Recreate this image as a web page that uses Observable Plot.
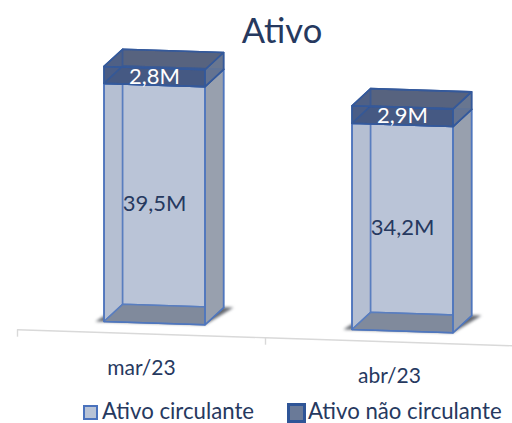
<!DOCTYPE html>
<html>
<head>
<meta charset="utf-8">
<script src="https://cdn.jsdelivr.net/npm/d3@7"></script>
<script src="https://cdn.jsdelivr.net/npm/@observablehq/plot@0.6"></script>
<style>
  html, body { margin: 0; padding: 0; background: #fff; }
  body { width: 512px; height: 423px; overflow: hidden; font-family: Lato, sans-serif; color: #26395f; position: relative; }
  #title { height: 40px; padding-left: 52px; text-align: center; font-size: 34.5px; line-height: 1; padding-top: 13px; box-sizing: border-box; }
  #chart { display: block; height: 348px; }
  #chart svg { display: block; overflow: visible; }
  #legend { position: relative; height: 35px; font-size: 22.2px; }
  #legend span { position: absolute; white-space: nowrap; line-height: 24px; }
  #legend i { position: absolute; display: block; box-sizing: border-box; }
</style>
</head>
<body>
<div id="title">Ativo</div>
<div id="chart"></div>
<div id="legend"></div>
<script>
// Balance sheet figures, in millions
const months = ["mar/23", "abr/23"];
const ativoCirculante = [39.5, 34.2];
const ativoNaoCirculante = [2.8, 2.9];
const seriesNames = ["Ativo circulante", "Ativo não circulante"];

// Oblique projection of the column chart, expressed in scale units
const barOffset = 0.349;   // column start inside its category
const barWidth = 0.407;    // column width, in categories
const depthX = 0.075;      // receding edge, in categories
const depthY = 2.95;       // receding edge, in millions
const tilt = 1.33;         // floor drop per category, in millions

const lowerStyle = {
  stroke: "#4f76bd",
  floor: "rgb(122,132,150)", back: "rgb(186,196,215)", left: "rgb(181,191,210)",
  right: "rgb(152,160,174)", front: "rgba(186,197,218,0.1)", top: null
};
const upperStyle = {
  stroke: "#34599b",
  floor: "rgb(72,90,132)", back: "rgb(88,100,128)", left: "rgb(78,96,136)",
  right: "rgba(110,124,150,0.75)", front: "rgba(62,84,132,0.2)", top: "rgba(85,97,125,0.25)"
};

const fmt = v => v.toFixed(1).replace(".", ",") + "M";
const faces = [];

// One prism between two stacked values; back faces first so the front ones overlay them
function prism(id, i, v0, v1, style) {
  const x0 = i + barOffset, x1 = x0 + barWidth;
  const p = (x, v, deep) => {
    const px = x + (deep ? depthX : 0);
    return [px, v + (deep ? depthY : 0) - tilt * px];
  };
  const quads = {
    back: [p(x0, v0, 1), p(x1, v0, 1), p(x1, v1, 1), p(x0, v1, 1)],
    floor: [p(x0, v0), p(x1, v0), p(x1, v0, 1), p(x0, v0, 1)],
    left: [p(x0, v0), p(x0, v0, 1), p(x0, v1, 1), p(x0, v1)],
    right: [p(x1, v0), p(x1, v0, 1), p(x1, v1, 1), p(x1, v1)],
    front: [p(x0, v0), p(x1, v0), p(x1, v1), p(x0, v1)],
    top: [p(x0, v1), p(x1, v1), p(x1, v1, 1), p(x0, v1, 1)]
  };
  for (const name of ["left", "back", "floor", "right", "front", "top"]) {
    const pts = quads[name];
    [...pts, pts[0]].forEach(([x, y]) => faces.push({
      id: `${id}-${i}-${name}`, x, y,
      fill: style[name] || "none", stroke: style.stroke
    }));
  }
}

months.forEach((_, i) => {
  prism("circulante", i, 0, ativoCirculante[i], lowerStyle);
  prism("naoCirculante", i, ativoCirculante[i], ativoCirculante[i] + ativoNaoCirculante[i], upperStyle);
});

// Soft cast shadow under each column
const shadows = months.flatMap((_, i) => {
  const x0 = i + barOffset, x1 = x0 + barWidth;
  const pts = [
    [x0 - 0.035, 0 - tilt * x0],
    [x1, 0 - tilt * x1],
    [x1 + depthX + 0.04, depthY - tilt * (x1 + depthX)],
    [x0 + depthX, depthY - tilt * (x0 + depthX)]
  ];
  return [...pts, pts[0]].map(([x, y]) => ({ id: i, x, y }));
});

// Slanted category axis
const axisLevel = -2.3;
const tickLen = 1.15;
const axisY = c => axisLevel - tilt * c + tilt * barOffset;
const axisPts = d3.range(months.length + 1).map(c => ({ x: c, y: axisY(c) }));

const valueLabels = months.flatMap((_, i) => {
  const cx = i + barOffset + barWidth / 2;
  const total = ativoCirculante[i] + ativoNaoCirculante[i];
  return [
    { x: cx, y: ativoCirculante[i] / 2 - tilt * cx, text: fmt(ativoCirculante[i]), color: "#26395f" },
    { x: cx, y: (ativoCirculante[i] + total) / 2 - tilt * cx, text: fmt(ativoNaoCirculante[i]), color: "#ffffff" }
  ];
});

const categoryLabels = months.map((m, i) => ({ x: i + 0.5, y: axisY(i + 0.5) - 5.75, text: m }));

const chart = Plot.plot({
  width: 512,
  height: 348,
  margin: 0,
  x: { domain: [-17 / 248, 495 / 248], range: [0, 512], axis: null },
  y: { domain: [-11.58, 46.14], range: [348, 0], axis: null },
  marks: [
    Plot.line(axisPts, { x: "x", y: "y", stroke: "#d9d9d9", strokeWidth: 1.4 }),
    Plot.link(axisPts.slice(0, 2), { x1: "x", x2: "x", y1: "y", y2: d => d.y - tickLen, stroke: "#d9d9d9", strokeWidth: 1.4 }),
    Plot.line(shadows, { x: "x", y: "y", z: "id", fill: "#4a4f58", stroke: "none", fillOpacity: 0.85, imageFilter: "blur(1.5px)" }),
    Plot.line(faces, { x: "x", y: "y", z: "id", fill: "fill", stroke: "stroke", strokeWidth: 1.6, strokeLinejoin: "round" }),
    Plot.text(valueLabels, { x: "x", y: "y", text: "text", fill: "color", fontSize: 22, fontFamily: "Lato, sans-serif" }),
    Plot.text(categoryLabels, { x: "x", y: "y", text: "text", fill: "#26395f", fontSize: 21, fontFamily: "Lato, sans-serif" })
  ]
});
document.getElementById("chart").append(chart);

// Legend below the plot
const legend = document.getElementById("legend");
legend.innerHTML = `
  <i style="left:83px;top:17px;width:15px;height:15px;background:#b8c3d6;border:2px solid #4a72bd"></i>
  <span style="left:102px;top:11px">${seriesNames[0]}</span>
  <i style="left:287px;top:15px;width:19px;height:20px;background:#6a7a98;border:3px solid #2f5597"></i>
  <span style="left:308px;top:11px">${seriesNames[1]}</span>`;
</script>
</body>
</html>
